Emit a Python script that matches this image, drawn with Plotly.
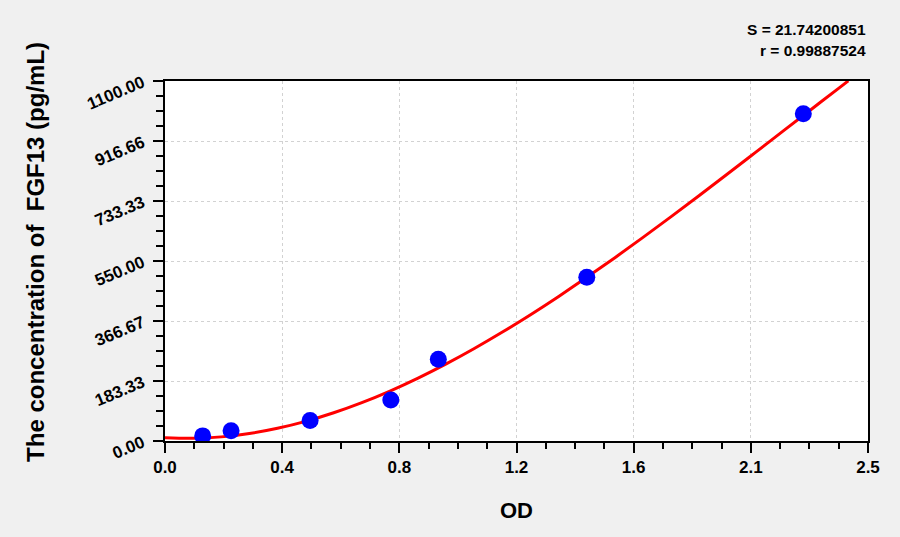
"""FGF13 ELISA standard curve."""

import plotly.graph_objects as go

# standard points (OD, concentration)
od = [0.134, 0.235, 0.516, 0.803, 0.972, 1.500, 2.270]
conc = [15.63, 31.25, 62.5, 125, 250, 500, 1000]

# fitted curve
curve_od = [0.0, 0.1, 0.2, 0.3, 0.4, 0.5, 0.6, 0.7, 0.8, 0.9, 1.0, 1.1, 1.2,
            1.3, 1.4, 1.5, 1.6, 1.7, 1.8, 1.9, 2.0, 2.1, 2.2, 2.3, 2.4, 2.43]
curve_conc = [10, 8.2, 12.6, 22.9, 38.8, 60.0, 86.3, 117.3, 152.7, 192.3, 235.7,
              282.7, 332.9, 386.0, 441.8, 500.0, 560.2, 622.2, 685.7, 750.3,
              815.8, 881.9, 948.3, 1014.6, 1080.7, 1100.4]

x_ticks = [0, 2.5 / 6, 5 / 6, 1.25, 10 / 6, 12.5 / 6, 2.5]
x_labels = ["0.0", "0.4", "0.8", "1.2", "1.6", "2.1", "2.5"]
y_ticks = [0, 183.33, 366.67, 550, 733.33, 916.66, 1100]
y_labels = ["0.00", "183.33", "366.67", "550.00", "733.33", "916.66", "1100.00"]

FONT = "Liberation Sans, Arial, sans-serif"

fig = go.Figure()
fig.add_trace(go.Scatter(x=curve_od, y=curve_conc, mode="lines",
                         line=dict(color="#ff0000", width=3, shape="spline"),
                         hoverinfo="skip"))
fig.add_trace(go.Scatter(x=od, y=conc, mode="markers",
                         marker=dict(color="#0000ff", size=17)))

axis_common = dict(
    showline=True, linecolor="black", linewidth=2, mirror=True,
    ticks="outside", ticklen=10, tickwidth=2, tickcolor="black",
    showgrid=True, gridcolor="#d2d2d2", griddash="dot", gridwidth=1,
    zeroline=False,
)

fig.update_xaxes(range=[0, 2.5], tickmode="array", tickvals=x_ticks, ticktext=x_labels,
                 tickfont=dict(family=FONT, size=17, color="black", weight="bold"),
                 minor=dict(dtick=2.5 / 24, tick0=0, ticks="outside", ticklen=6,
                            tickwidth=2, tickcolor="black", showgrid=False),
                 **axis_common)
fig.update_yaxes(range=[0, 1100], tickmode="array", tickvals=y_ticks, ticktext=y_labels,
                 tickangle=-23, ticklabelstandoff=7,
                 tickfont=dict(family=FONT, size=17, color="black", weight="bold"),
                 minor=dict(dtick=1100 / 24, tick0=0, ticks="outside", ticklen=7,
                            tickwidth=2, tickcolor="black", showgrid=False),
                 **axis_common)

fig.update_layout(
    width=900, height=537,
    margin=dict(l=165, r=32, t=81, b=96),
    paper_bgcolor="#f0f0f0", plot_bgcolor="white",
    showlegend=False,
    font=dict(family=FONT, color="black"),
    annotations=[
        dict(text="OD", xref="paper", yref="paper", x=0.5, y=-0.193,
             xanchor="center", yanchor="middle",
             showarrow=False, font=dict(size=22, weight="bold")),
        dict(text="The concentration of\u00a0 FGF13 (pg/mL)", xref="paper", yref="paper",
             x=-0.185, y=0.525, xanchor="center", yanchor="middle",
             textangle=-90, showarrow=False,
             font=dict(size=24, weight="bold")),
        dict(text="S = 21.74200851", xref="paper", yref="paper", x=1.0, y=1.143,
             xanchor="right", yanchor="middle", showarrow=False,
             font=dict(size=15.5, weight="bold")),
        dict(text="r = 0.99887524", xref="paper", yref="paper", x=1.0, y=1.085,
             xanchor="right", yanchor="middle", showarrow=False,
             font=dict(size=15.5, weight="bold")),
    ],
)

fig.write_html("out.html", config={"displayModeBar": False},
               post_script="document.body.style.margin='0';")
